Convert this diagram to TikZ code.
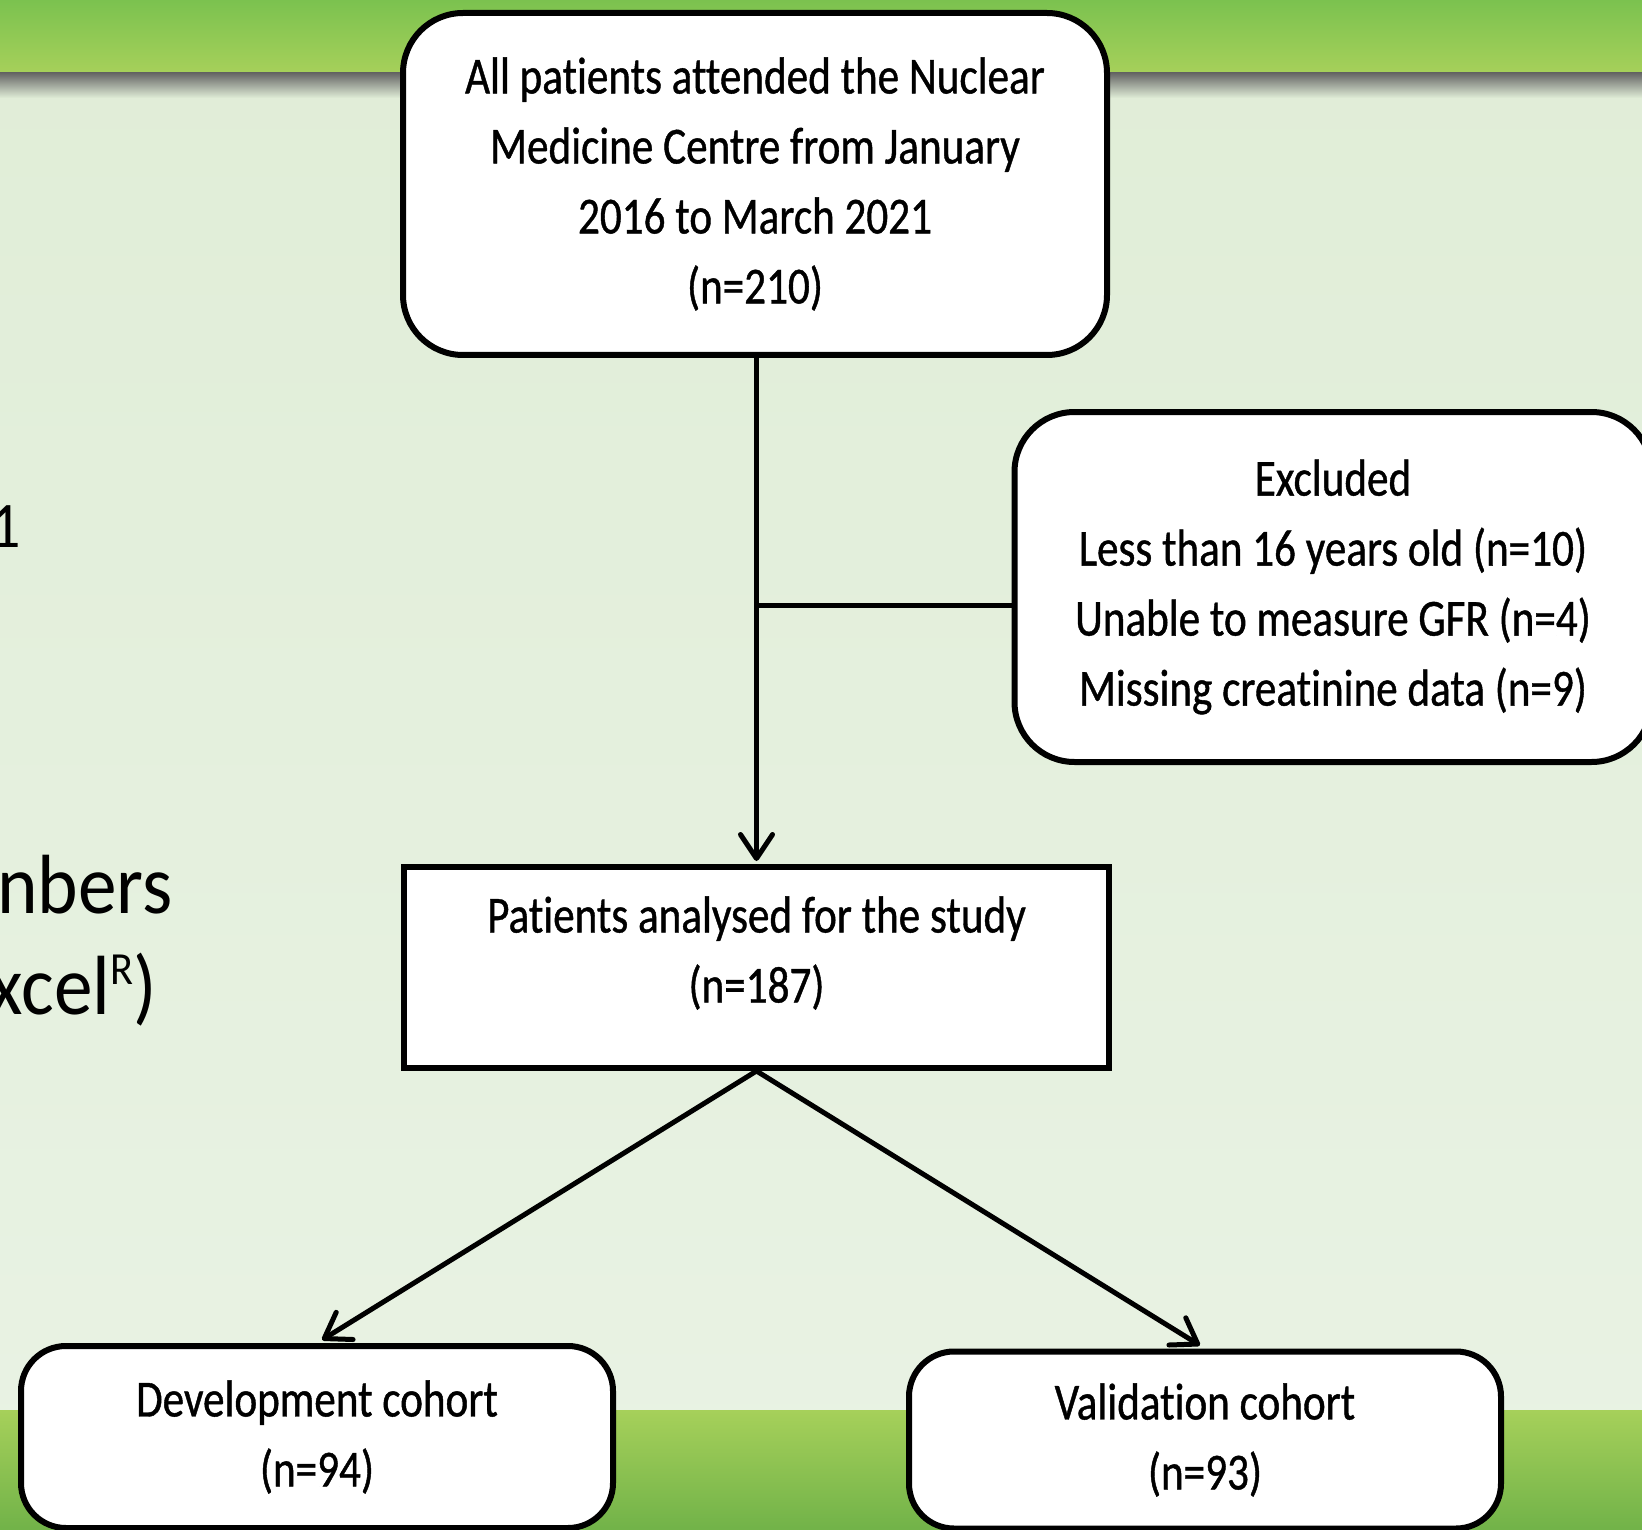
\documentclass[tikz,border=0pt]{standalone}
\usepackage{fontspec}
\setmainfont{Carlito}
\newfontfamily\boxfont[FakeStretch=0.83, FakeBold=0.8, Ligatures={NoCommon}]{Carlito}
\newfontfamily\bgfont[FakeStretch=0.92, Ligatures={NoCommon}]{Carlito}
\usetikzlibrary{arrows.meta}
\definecolor{bgA}{HTML}{E0EDD7}
\definecolor{bgM}{HTML}{E6F1E0}
\definecolor{bgB}{HTML}{E9F3E4}
\definecolor{barTop}{HTML}{7BC24F}
\definecolor{barBot}{HTML}{A6D05A}
\tikzset{
  boxbase/.style={draw=black, line width=6pt, fill=white, align=center, inner sep=0pt,
    font=\boxfont\fontsize{52}{70}\selectfont},
  roundbox/.style={boxbase, rounded corners=60pt},
  smallround/.style={boxbase, rounded corners=45pt},
  sharpbox/.style={boxbase},
  conn/.style={draw=black, line width=5pt, line cap=round},
  arr/.style={-{Straight Barb[length=24pt,width=32pt,round]}},
  bgtext/.style={inner sep=0pt, text=black, font=\bgfont\fontsize{84}{90}\selectfont}
}
\begin{document}
\begin{tikzpicture}[x=1pt,y=-1pt]
\useasboundingbox (0,0) rectangle (1642,1530);
\begin{scope}
\clip (0,0) rectangle (1642,1530);
% background
\shade[top color=bgA, middle color=bgM, bottom color=bgB] (0,0) rectangle (1642,1530);
% top bar and its shadow
\shade[top color=black!62, bottom color=bgA] (0,72) rectangle (1642,98);
\shade[top color=barTop, bottom color=barBot] (0,0) rectangle (1642,72);
% bottom bar
\shade[top color=barBot, bottom color=barTop!92!black] (0,1410) rectangle (1642,1530);

% partial slide text on the left
\node[bgtext, font=\bgfont\fontsize{65}{70}\selectfont, anchor=base east] (one) at (21,547) {1};
\node[bgtext, anchor=base east] (nbers) at (173,913) {nbers};
\node[bgtext, anchor=base east] (xcel) at (157,1014)
  {xcel\raisebox{30pt}{\fontsize{46}{46}\selectfont R})};

% boxes
\node[roundbox, minimum width=704pt, minimum height=342pt] (top) at (755,184)
  {All patients attended the Nuclear\\Medicine Centre from January\\2016 to March 2021\\(n=210)};
\node[roundbox, minimum width=637pt, minimum height=350pt] (excl) at (1333,587)
  {Excluded\\Less than 16 years old (n=10)\\Unable to measure GFR (n=4)\\Missing creatinine data (n=9)};
\node[sharpbox, minimum width=705pt, minimum height=201pt] (ana) at (756.5,967.5)
  {\raisebox{14pt}[\height][\depth]{\begin{tabular}{@{}c@{}}Patients analysed for the study\\(n=187)\end{tabular}}};
\node[smallround, minimum width=592pt, minimum height=182pt] (dev) at (317,1437)
  {Development cohort\\(n=94)};
\node[smallround, minimum width=592pt, minimum height=177pt] (val) at (1205,1440)
  {Validation cohort\\(n=93)};

% connectors
\path (excl.west) ++(0,18) coordinate (exclin);
\draw[conn] (exclin) -- (exclin -| ana.north);
\draw[conn, arr, shorten >=3pt] (top.south -| ana.north) -- (ana.north);
\draw[conn, arr, shorten >=6pt] (ana.south) -- (dev.north);
\draw[conn, arr, shorten >=6pt] (ana.south) -- (val.north);
\end{scope}
\end{tikzpicture}
\end{document}
